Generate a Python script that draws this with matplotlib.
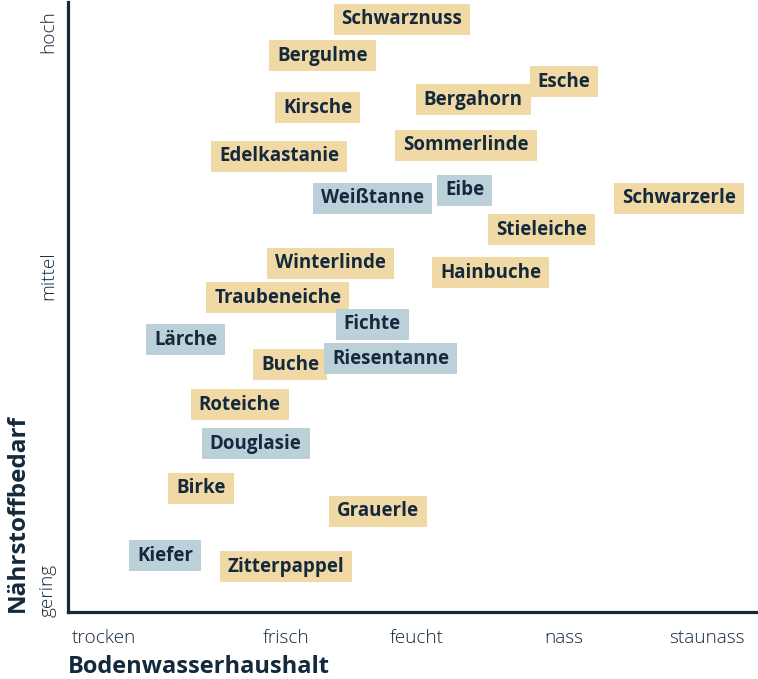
import matplotlib
matplotlib.use("Agg")
import matplotlib.pyplot as plt
from matplotlib.patches import Rectangle

# ================================================
# DATEN
# ================================================
trees = ["Schwarznuss", "Bergulme", "Esche", "Bergahorn", "Kirsche", "Sommerlinde",
         "Edelkastanie", "Weißtanne", "Eibe", "Schwarzerle", "Stieleiche", "Winterlinde",
         "Hainbuche", "Traubeneiche", "Fichte", "Lärche", "Buche", "Riesentanne",
         "Roteiche", "Douglasie", "Birke", "Grauerle", "Kiefer", "Zitterpappel"]
wasser = [48.4, 36.9, 71.9, 58.7, 36.2, 57.7, 30.6, 44.2, 57.5, 88.6, 68.6, 38.1,
          61.3, 30.4, 44.1, 17.1, 32.2, 46.8, 24.9, 27.2, 19.3, 44.9, 14.1, 31.6]
naehrstoff = [97.2, 91.2, 86.9, 84.0, 82.7, 76.5, 74.7, 67.8, 69.1, 67.8, 62.7, 57.2,
              55.6, 51.5, 47.2, 44.6, 40.5, 41.5, 34.0, 27.6, 20.3, 16.5, 9.2, 7.4]
nadelbaum = [False, False, False, False, False, False, False, True, True, False, False, False,
             False, False, True, True, False, True, False, True, False, False, True, False]

x_ticks = [5.2, 31.6, 50.6, 71.9, 92.6]
x_labels = ["trocken", "frisch", "feucht", "nass", "staunass"]
y_ticks = [3.6, 55.1, 95.1]
y_labels = ["gering", "mittel", "hoch"]

NAVY = "#14293c"
TAN = "#f1d9a6"
BLUE = "#bcd0da"

# ================================================
# PLOT
# ================================================
plt.rcParams["font.family"] = ["Open Sans", "DejaVu Sans"]

W, H = 758, 679
fig = plt.figure(figsize=(W / 100, H / 100), dpi=100)
ax = fig.add_axes([68 / W, (H - 612) / H, 690 / W, 610 / H])
ax.set_xlim(0, 100)
ax.set_ylim(0, 100)

for s in ["top", "right"]:
    ax.spines[s].set_visible(False)
for s in ["left", "bottom"]:
    ax.spines[s].set_color(NAVY)
    ax.spines[s].set_linewidth(2.3)

ax.set_xticks(x_ticks)
ax.set_xticklabels(x_labels, fontsize=13.7, color=NAVY, fontweight="light")
ax.set_yticks(y_ticks)
ax.set_yticklabels(y_labels, fontsize=13.7, color=NAVY, fontweight="light",
                   rotation=90, va="center")
ax.tick_params(axis="x", length=0, pad=12)
ax.tick_params(axis="y", length=0, pad=8)

fig.text(68 / W, 1 - 667 / H, "Bodenwasserhaushalt", fontsize=17, fontweight="bold",
         color=NAVY, ha="left", va="center")
fig.text(18 / W, 1 - 612 / H, "Nährstoffbedarf", fontsize=17.5, fontweight="bold",
         color=NAVY, ha="center", va="bottom", rotation=90)

texts = []
for name, x, y in zip(trees, wasser, naehrstoff):
    t = ax.text(x, y, name, fontsize=13.5, fontweight="bold", color=NAVY,
                ha="center", va="center", zorder=3)
    texts.append(t)

# Kästen um die Texte aus der Textgröße ableiten
fig.canvas.draw()
r = fig.canvas.get_renderer()
inv = ax.transData.inverted()
for t, x, y, nb in zip(texts, wasser, naehrstoff, nadelbaum):
    bb = t.get_window_extent(renderer=r)
    cx, cy = ax.transData.transform((x, y))
    x0, y0 = inv.transform((bb.x0 - 8, cy - 15.5))
    x1, y1 = inv.transform((bb.x1 + 8, cy + 15.5))
    ax.add_patch(Rectangle((x0, y0), x1 - x0, y1 - y0, facecolor=BLUE if nb else TAN,
                           edgecolor="none", zorder=2, clip_on=False))

fig.savefig("out.png", dpi=100)
